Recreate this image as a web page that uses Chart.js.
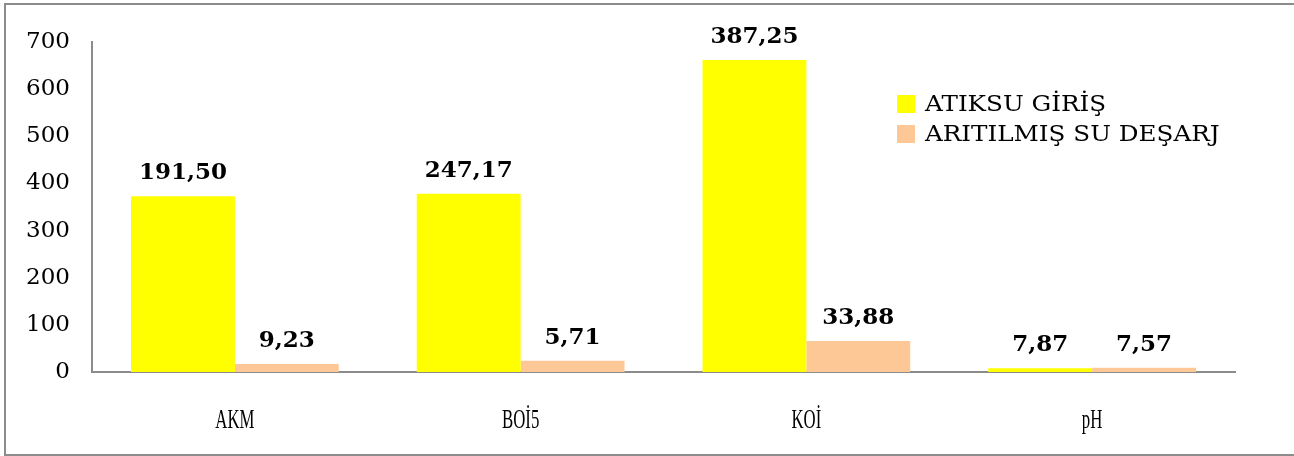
<!DOCTYPE html>
<html>
<head>
<meta charset="utf-8">
<script src="https://cdn.jsdelivr.net/npm/chart.js@4.4.1/dist/chart.umd.min.js"></script>
<style>
  html, body { margin: 0; padding: 0; background: #fff; overflow: hidden; }
  #wrap { position: relative; width: 1294px; height: 456px; }
</style>
</head>
<body>
<div id="wrap"><canvas id="chart" width="1294" height="456"></canvas></div>
<script>
// categories and series
const categories = ['AKM', 'BOİ5', 'KOİ', 'pH'];
const seriesNames = ['ATIKSU GİRİŞ', 'ARITILMIŞ SU DEŞARJ'];
const inflowValues = [373, 378, 662, 8];
const dischargeValues = [17, 24, 66, 9];
// printed labels above bars (as shown in the chart)
const inflowLabels = ['191,50', '247,17', '387,25', '7,87'];
const dischargeLabels = ['9,23', '5,71', '33,88', '7,57'];
const yTicks = [0, 100, 200, 300, 400, 500, 600, 700];

const colors = ['#ffff00', '#fdc896'];
const serif = "'DejaVu Serif', serif";

// labels above each bar
const valueLabelPlugin = {
  id: 'valueLabels',
  afterDatasetsDraw(chart) {
    const ctx = chart.ctx;
    const labelSets = [inflowLabels, dischargeLabels];
    ctx.save();
    ctx.font = 'bold 23px ' + serif;
    ctx.fillStyle = '#000';
    ctx.textAlign = 'center';
    ctx.textBaseline = 'alphabetic';
    chart.data.datasets.forEach((ds, i) => {
      chart.getDatasetMeta(i).data.forEach((bar, j) => {
        ctx.fillText(labelSets[i][j], bar.x, bar.y - 17);
      });
    });
    ctx.restore();
  }
};

// category names, drawn narrow like the original
const categoryLabelPlugin = {
  id: 'catLabels',
  afterDraw(chart) {
    const ctx = chart.ctx;
    const xs = chart.scales.x;
    ctx.save();
    ctx.font = "28px 'Liberation Serif', serif";
    ctx.fillStyle = '#000';
    ctx.textAlign = 'center';
    ctx.textBaseline = 'alphabetic';
    categories.forEach((c, i) => {
      ctx.save();
      ctx.translate(xs.getPixelForTick(i), 428);
      ctx.scale(0.6, 1);
      ctx.fillText(c, 0, 0);
      ctx.restore();
    });
    ctx.restore();
  }
};

// legend inside the plot area, top right
const legendPlugin = {
  id: 'sideLegend',
  afterDraw(chart) {
    const ctx = chart.ctx;
    ctx.save();
    ctx.font = '22px ' + serif;
    ctx.textBaseline = 'middle';
    chart.data.datasets.forEach((ds, i) => {
      const y = 104 + i * 30;
      ctx.fillStyle = ds.backgroundColor;
      ctx.fillRect(897, y - 9, 18, 18);
      ctx.fillStyle = '#000';
      ctx.save();
      ctx.translate(925, y + 1);
      ctx.scale(1.12, 1);
      ctx.fillText(ds.label, 0, 0);
      ctx.restore();
    });
    ctx.restore();
  }
};

// white background + outer frame (left, top, bottom)
const framePlugin = {
  id: 'frame',
  beforeDraw(chart) {
    const ctx = chart.ctx;
    ctx.save();
    ctx.fillStyle = '#fff';
    ctx.fillRect(0, 0, chart.width, chart.height);
    ctx.restore();
  },
  afterDraw(chart) {
    const ctx = chart.ctx;
    ctx.save();
    ctx.strokeStyle = '#8c8c8c';
    ctx.lineWidth = 2;
    ctx.beginPath();
    ctx.moveTo(1400, 4);
    ctx.lineTo(5, 4);
    ctx.lineTo(5, 455);
    ctx.lineTo(1400, 455);
    ctx.stroke();
    ctx.restore();
  }
};

new Chart(document.getElementById('chart'), {
  type: 'bar',
  data: {
    labels: categories,
    datasets: [
      { label: seriesNames[0], data: inflowValues, backgroundColor: colors[0] },
      { label: seriesNames[1], data: dischargeValues, backgroundColor: colors[1] }
    ]
  },
  options: {
    responsive: false,
    animation: false,
    devicePixelRatio: 1,
    layout: { padding: { top: 42, right: 59, left: 0, bottom: 0 } },
    datasets: { bar: { categoryPercentage: 0.727, barPercentage: 1, borderWidth: 0 } },
    plugins: { legend: { display: false }, tooltip: { enabled: false } },
    scales: {
      x: {
        grid: { display: false, drawTicks: false },
        border: { display: true, color: '#8c8c8c', width: 2 },
        ticks: { display: false },
        afterFit(scale) { scale.height = 84; }
      },
      y: {
        min: 0,
        max: 700,
        grid: { display: false, drawTicks: false },
        border: { display: true, color: '#8c8c8c', width: 2 },
        afterBuildTicks(scale) { scale.ticks = yTicks.map(v => ({ value: v })); },
        ticks: { color: '#000', font: { family: serif, size: 23 }, padding: 22 },
        afterFit(scale) { scale.width = 92; }
      }
    }
  },
  plugins: [framePlugin, valueLabelPlugin, categoryLabelPlugin, legendPlugin]
});
</script>
</body>
</html>
